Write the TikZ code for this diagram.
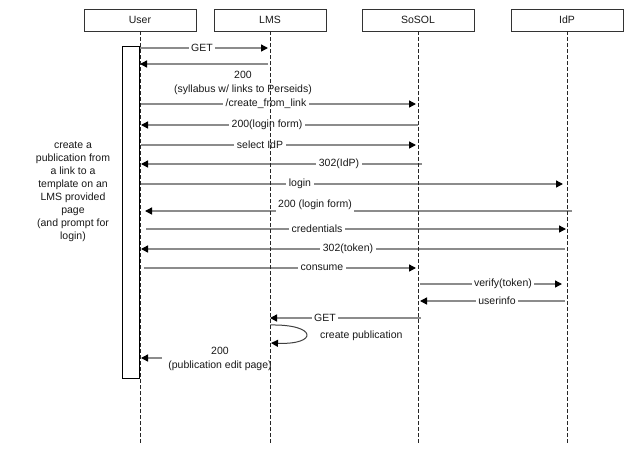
\documentclass[tikz,border=0pt]{standalone}
\usepackage{fontspec}
\setmainfont{Liberation Sans}
\usetikzlibrary{arrows.meta}
\begin{document}
\begin{tikzpicture}[x=1pt,y=-1pt,
  font=\fontsize{10.5}{14}\selectfont,
  actor/.style={draw=black!80, line width=0.8pt, fill=white, minimum width=112pt, minimum height=22pt, inner sep=0pt, text=black!90},
  lifeline/.style={draw=black!85, line width=0.7pt, dash pattern=on 4pt off 2pt},
  msg/.style={draw=black!45, line width=1.4pt, -{Triangle[length=7pt,width=7pt,color=black]}},
  selfmsg/.style={draw=black!75, line width=1pt, -{Triangle[length=7pt,width=7pt,color=black]}},
  lbl/.style={fill=white, inner sep=2.5pt, text=black!90},
  note/.style={align=center, text=black!90, inner sep=0pt},
]
\useasboundingbox (0,0) rectangle (640,464);
\fill[white] (0,0) rectangle (640,464);

% header boxes
\node[actor] (user)  at (140,20) {User};
\node[actor] (lms)   at (270,20) {LMS};
\node[actor] (sosol) at (418,20) {SoSOL};
\node[actor] (idp)   at (567,20) {IdP};

% activation box
\node[draw=black, line width=0.9pt, fill=white, minimum width=17pt, minimum height=332pt, inner sep=0pt] (act) at (130.5,212) {};

% description
\node[note, font=\fontsize{10.5}{13}\selectfont] (desc) at (73,192) {create a\\publication from\\a link to a\\template on an\\LMS provided\\page\\(and prompt for\\login)};

% message end points
\coordinate (a1) at (140,48);  \coordinate (b1) at (268,48);
\coordinate (a2) at (268,64);  \coordinate (b2) at (140,64);
\coordinate (a3) at (141,104); \coordinate (b3) at (416,104);
\coordinate (a4) at (418,125); \coordinate (b4) at (141,125);
\coordinate (a5) at (141,145); \coordinate (b5) at (416,145);
\coordinate (a6) at (422,164); \coordinate (b6) at (141,164);
\coordinate (a7) at (141,184); \coordinate (b7) at (563,184);
\coordinate (a8) at (572,211); \coordinate (b8) at (145,211);
\coordinate (a9) at (146,229); \coordinate (b9) at (566,229);
\coordinate (a10) at (565,249); \coordinate (b10) at (141,249);
\coordinate (a11) at (144,268); \coordinate (b11) at (416,268);
\coordinate (a12) at (420,284); \coordinate (b12) at (562,284);
\coordinate (a13) at (565,301); \coordinate (b13) at (420,301);
\coordinate (a14) at (421,318); \coordinate (b14) at (270,318);
\coordinate (a15) at (270,325); \coordinate (b15) at (271,343);
\coordinate (a16) at (162,358); \coordinate (b16) at (141,358);

\draw[msg] (a1) -- (b1);
\node[lbl] (m1) at (202,48) {GET};
\draw[msg] (a2) -- (b2);
\node[note] (m2) at (243,83) {200\\(syllabus w/ links to Perseids)};
\draw[msg] (a3) -- (b3);
\node[lbl] (m3) at (266,104) {/create\_from\_link};
\draw[msg] (a4) -- (b4);
\node[lbl] (m4) at (267,125) {200(login form)};
\draw[msg] (a5) -- (b5);
\node[lbl] (m5) at (260,145) {select IdP};
\draw[msg] (a6) -- (b6);
\node[lbl] (m6) at (339,164) {302(IdP)};
\draw[msg] (a7) -- (b7);
\node[lbl] (m7) at (300,184) {login};
\draw[msg] (a8) -- (b8);
\node[lbl] (m8) at (315,205) {200 (login form)};
\draw[msg] (a9) -- (b9);
\node[lbl] (m9) at (317,229) {credentials};
\draw[msg] (a10) -- (b10);
\node[lbl] (m10) at (348,249) {302(token)};
\draw[msg] (a11) -- (b11);
\node[lbl] (m11) at (322,268) {consume};
\draw[msg] (a12) -- (b12);
\node[lbl] (m12) at (503,284) {verify(token)};
\draw[msg] (a13) -- (b13);
\node[lbl] (m13) at (497,301) {userinfo};
\draw[msg] (a14) -- (b14);
\node[lbl] (m14) at (325,318) {GET};
\draw[selfmsg] (a15) .. controls (318,324) and (318,345) .. (b15);
\node[note, anchor=west] (m15) at (320,336) {create publication};
\draw[msg] (a16) -- (b16);
\node[note] (m16) at (220,359) {200\\(publication edit page)};

% lifelines
\coordinate (userend)  at (140,443);
\coordinate (lmsend)   at (270,443);
\coordinate (sosolend) at (418,443);
\coordinate (idpend)   at (567,443);
\draw[lifeline] (user.south) -- (userend);
\draw[lifeline] (lms.south) -- (lmsend);
\draw[lifeline] (sosol.south) -- (sosolend);
\draw[lifeline] (idp.south) -- (idpend);
\end{tikzpicture}
\end{document}
